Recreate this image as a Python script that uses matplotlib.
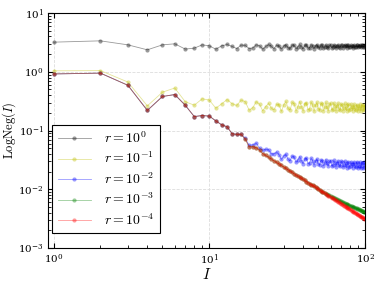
import numpy as np
import matplotlib
matplotlib.use("Agg")
import matplotlib.pyplot as plt

plt.rcParams['mathtext.fontset'] = 'cm'
plt.rcParams['font.family'] = 'serif'
plt.rcParams['font.serif'] = ['DejaVu Serif']

# system size I = 1..100
I = list(range(1, 101))

# r = 1
neg_r0 = [3.2, 3.37, 2.88, 2.37, 2.88, 3.0, 2.44, 2.53, 2.88, 2.77,
          2.43, 2.77, 2.92, 2.70, 2.49, 2.85, 2.82, 2.49, 2.55, 2.88,
          2.77, 2.43, 2.70, 2.92, 2.70, 2.49, 2.85, 2.73, 2.45, 2.73,
          2.91, 2.57, 2.51, 2.87, 2.81, 2.48, 2.66, 2.92, 2.66, 2.49,
          2.81, 2.87, 2.53, 2.59, 2.91, 2.74, 2.49, 2.74, 2.90, 2.60,
          2.55, 2.87, 2.81, 2.52, 2.67, 2.91, 2.68, 2.53, 2.81, 2.87,
          2.57, 2.62, 2.90, 2.75, 2.53, 2.75, 2.90, 2.63, 2.58, 2.86,
          2.81, 2.56, 2.70, 2.90, 2.70, 2.57, 2.82, 2.86, 2.60, 2.65,
          2.89, 2.76, 2.57, 2.76, 2.89, 2.66, 2.62, 2.86, 2.82, 2.60,
          2.72, 2.89, 2.72, 2.61, 2.82, 2.86, 2.64, 2.68, 2.88, 2.78]

# r = 0.1
neg_r1 = [1.04, 1.05, 0.67, 0.263, 0.45, 0.53, 0.31, 0.27, 0.347, 0.33,
          0.24, 0.285, 0.337, 0.286, 0.267, 0.33, 0.31, 0.222, 0.245, 0.31,
          0.28, 0.217, 0.256, 0.29, 0.24, 0.225, 0.28, 0.274, 0.212, 0.273,
          0.313, 0.238, 0.224, 0.303, 0.288, 0.216, 0.254, 0.312, 0.254, 0.216,
          0.286, 0.298, 0.224, 0.237, 0.305, 0.268, 0.213, 0.267, 0.302, 0.236,
          0.224, 0.293, 0.280, 0.216, 0.250, 0.301, 0.250, 0.216, 0.278, 0.289,
          0.224, 0.235, 0.294, 0.262, 0.214, 0.261, 0.292, 0.234, 0.223, 0.283,
          0.272, 0.217, 0.246, 0.290, 0.246, 0.217, 0.270, 0.279, 0.223, 0.233,
          0.284, 0.256, 0.215, 0.255, 0.281, 0.232, 0.223, 0.274, 0.264, 0.217,
          0.242, 0.279, 0.241, 0.217, 0.262, 0.270, 0.222, 0.231, 0.273, 0.250]

# r = 1e-4
neg_r4 = [0.92, 0.95, 0.59, 0.22, 0.38, 0.41, 0.27, 0.173, 0.18, 0.176,
          0.146, 0.125, 0.116, 0.088, 0.086, 0.086, 0.071, 0.053, 0.053, 0.051,
          0.046, 0.0405, 0.0376, 0.0350, 0.0327, 0.0305, 0.0286, 0.0269, 0.0254, 0.0239,
          0.0226, 0.0214, 0.0204, 0.0193, 0.0184, 0.0175, 0.0167, 0.0160, 0.0153, 0.0147,
          0.0141, 0.0135, 0.0130, 0.0125, 0.0120, 0.0116, 0.0112, 0.0108, 0.0104, 0.0100,
          0.00971, 0.00939, 0.00909, 0.00881, 0.00854, 0.00828, 0.00804, 0.00780, 0.00758, 0.00736,
          0.00716, 0.00697, 0.00678, 0.00660, 0.00643, 0.00626, 0.00611, 0.00595, 0.00581, 0.00567,
          0.00553, 0.00540, 0.00528, 0.00516, 0.00504, 0.00493, 0.00482, 0.00471, 0.00461, 0.00452,
          0.00442, 0.00433, 0.00424, 0.00416, 0.00407, 0.00399, 0.00392, 0.00384, 0.00377, 0.00370,
          0.00363, 0.00356, 0.00349, 0.00343, 0.00337, 0.00331, 0.00325, 0.00320, 0.00315, 0.00309]

# r = 1e-3 (same as 1e-4 up to I=50)
neg_r3 = neg_r4[:50] + [
          0.00972, 0.00942, 0.00915, 0.00890, 0.00866, 0.00843, 0.00822, 0.00802, 0.00783, 0.00764,
          0.00748, 0.00732, 0.00715, 0.00700, 0.00686, 0.00672, 0.00659, 0.00645, 0.00633, 0.00621,
          0.00610, 0.00599, 0.00590, 0.00581, 0.00571, 0.00562, 0.00552, 0.00543, 0.00535, 0.00527,
          0.00519, 0.00511, 0.00504, 0.00497, 0.00489, 0.00483, 0.00477, 0.00471, 0.00465, 0.00460,
          0.00453, 0.00447, 0.00441, 0.00436, 0.00431, 0.00426, 0.00421, 0.00417, 0.00413, 0.00407]

# r = 1e-2 (same as 1e-4 up to I=16)
neg_r2 = neg_r4[:16] + [
          0.074, 0.056, 0.057, 0.061,
          0.050, 0.046, 0.048, 0.047, 0.040, 0.040, 0.043, 0.0388, 0.0322, 0.0368,
          0.0396, 0.0324, 0.0307, 0.0369, 0.0351, 0.0286, 0.0315, 0.0359, 0.0307, 0.0272,
          0.0328, 0.0337, 0.0274, 0.0282, 0.0337, 0.0305, 0.0258, 0.0300, 0.0328, 0.0271,
          0.0260, 0.0317, 0.0305, 0.0250, 0.0278, 0.0320, 0.0276, 0.0247, 0.0297, 0.0306,
          0.0249, 0.0258, 0.0310, 0.0281, 0.0238, 0.0279, 0.0306, 0.0254, 0.0244, 0.0297,
          0.0287, 0.0236, 0.0262, 0.0303, 0.0261, 0.0234, 0.0283, 0.0293, 0.0238, 0.0248,
          0.0296, 0.0270, 0.0229, 0.0269, 0.0294, 0.0245, 0.0235, 0.0287, 0.0277, 0.0228,
          0.0253, 0.0293, 0.0252, 0.0226, 0.0275, 0.0283, 0.0231, 0.0240, 0.0288, 0.0263]

series = [neg_r0, neg_r1, neg_r2, neg_r3, neg_r4]
labels = [r'$r=10^{0}$', r'$r=10^{-1}$', r'$r=10^{-2}$', r'$r=10^{-3}$', r'$r=10^{-4}$']
colors = ['k', 'y', 'b', 'g', 'r']

fig = plt.figure(figsize=(3.8, 2.85), dpi=100)
ax = fig.add_axes([0.126, 0.13, 0.835, 0.824])

for vals, lab, c in zip(series, labels, colors):
    ax.plot(I, vals, '-o', color=c, alpha=0.4, lw=0.6, ms=3, mew=0, label=lab)

ax.set_xscale('log')
ax.set_yscale('log')
ax.set_xlim(0.92, 100)
ax.set_ylim(1e-3, 10)
ax.grid(True, which='major', ls='--', color='#dddddd', lw=0.6)
ax.tick_params(which='both', direction='in', top=True, right=True, labelsize=7.5, pad=3)
ax.set_xlabel(r'$I$', fontsize=11, labelpad=0)
ax.set_ylabel(r'$\mathrm{LogNeg}(I)$', fontsize=9, labelpad=0)

leg = ax.legend(loc='lower left', bbox_to_anchor=(0.005, 0.05), borderaxespad=0.2,
                fontsize=10, fancybox=False, framealpha=1, edgecolor='k',
                handlelength=2.4, borderpad=0.4, labelspacing=0.35, handletextpad=0.9)
leg.get_frame().set_linewidth(0.8)

fig.savefig('out.png', dpi=100)
